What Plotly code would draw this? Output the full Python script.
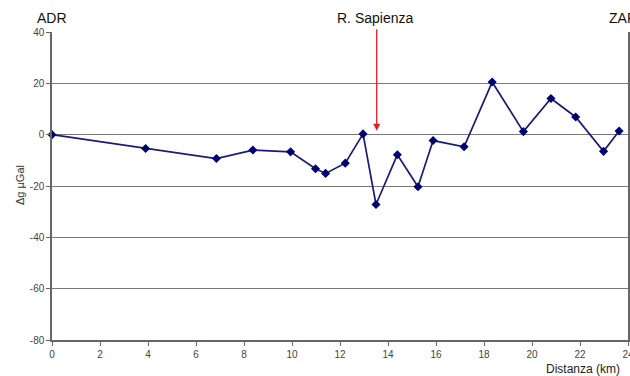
import plotly.graph_objects as go

distance_km = [0, 3.9, 6.85, 8.37, 9.94, 10.98, 11.4, 12.22, 12.96, 13.5, 14.39,
               15.25, 15.88, 17.17, 18.34, 19.64, 20.79, 21.82, 22.98, 23.63]
delta_g = [0, -5.4, -9.3, -6.0, -6.7, -13.3, -15.1, -11.1, 0.3, -27.2, -7.8,
           -20.3, -2.3, -4.7, 20.5, 1.2, 14.1, 6.9, -6.5, 1.4]

x_ticks = list(range(0, 25, 2))
y_ticks = list(range(-80, 41, 20))

arrow_x = 13.53
arrow_top = 41.7
arrow_tip = 1.5

fig = go.Figure()
fig.add_trace(go.Scatter(
    x=distance_km, y=delta_g, mode="lines+markers",
    line=dict(color="#1a1a7a", width=1.7),
    marker=dict(symbol="diamond", size=7, color="#00006e"),
    showlegend=False, cliponaxis=False,
))

axis_font = dict(family="Liberation Sans, Arial, sans-serif", size=10, color="#444444")

fig.update_layout(
    width=630, height=376,
    margin=dict(l=52, r=2, t=32, b=36, autoexpand=False),
    paper_bgcolor="white", plot_bgcolor="white",
    font=dict(family="Liberation Sans, Arial, sans-serif", color="#222222"),
    xaxis=dict(
        range=[0, 24], tickvals=x_ticks, ticktext=[str(v) for v in x_ticks],
        showgrid=False, zeroline=False, automargin=False,
        showline=True, linecolor="#666666", linewidth=1.5,
        ticks="outside", ticklen=4, tickcolor="#666666",
        tickfont=axis_font, ticklabeloverflow="allow",
    ),
    yaxis=dict(
        range=[-80, 40], tickvals=y_ticks, ticktext=[str(v) for v in y_ticks],
        showgrid=True, gridcolor="#7a7a7a", gridwidth=1,
        zeroline=False, automargin=False,
        showline=True, linecolor="#666666", linewidth=1.5, mirror=True,
        ticks="outside", ticklen=4, tickcolor="#666666",
        tickfont=axis_font,
    ),
    annotations=[
        dict(text="ADR", xref="paper", yref="paper", x=0, y=(340 - 18) / 308,
             xanchor="center", yanchor="middle", showarrow=False,
             font=dict(size=14, color="#111111")),
        dict(text="ZAR", xref="paper", yref="paper", x=(607 - 52) / 576, y=(340 - 18) / 308,
             xanchor="left", yanchor="middle", showarrow=False,
             font=dict(size=14, color="#111111")),
        dict(text="R. Sapienza", xref="x", yref="paper", x=arrow_x - 0.08, y=(340 - 18) / 308,
             xanchor="center", yanchor="middle", showarrow=False,
             font=dict(size=14, color="#111111")),
        dict(text="", x=arrow_x, y=arrow_tip, xref="x", yref="y",
             ax=arrow_x, ay=arrow_top, axref="x", ayref="y",
             showarrow=True, arrowhead=2, arrowsize=1.1, arrowwidth=1.3,
             arrowcolor="#e02020"),
        dict(text="\u0394g \u00b5Gal", xref="paper", yref="paper",
             x=(20 - 52) / 576, y=(340 - 185) / 308, textangle=-90,
             xanchor="center", yanchor="middle", showarrow=False,
             font=dict(size=11, color="#333333")),
        dict(text="Distanza (km)", xref="paper", yref="paper",
             x=(583 - 52) / 576, y=(340 - 369) / 308,
             xanchor="center", yanchor="middle", showarrow=False,
             font=dict(size=12, color="#222222")),
    ],
)

fig.write_html("out.html")
